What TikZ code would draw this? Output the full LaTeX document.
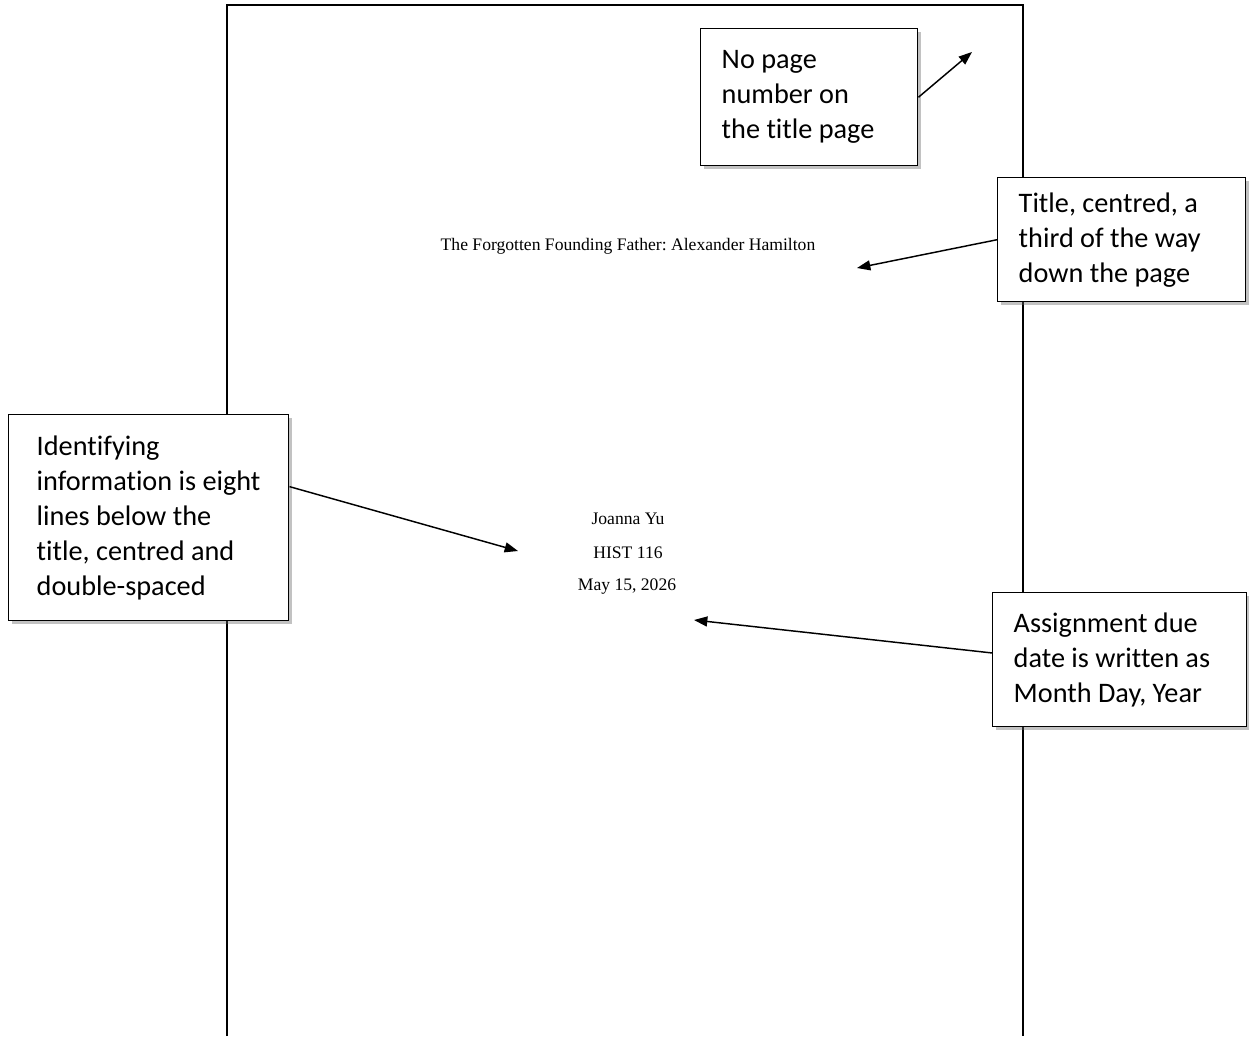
\documentclass[tikz,border=0pt]{standalone}
\usepackage{fontspec}
\setmainfont{Liberation Serif}
\newfontfamily\calloutfont[Ligatures={NoCommon}]{Carlito}
\usetikzlibrary{shadows,calc,arrows.meta}
\frenchspacing

\tikzset{every picture/.style={line width=0.75pt}}
\tikzset{
  callout/.style={draw=black,line width=1.1pt,fill=white,anchor=north west,inner xsep=15.75pt,inner ysep=0pt,
    align=flush left,font=\calloutfont\fontsize{21.2}{26.25}\selectfont,
    drop shadow={shadow xshift=2.5pt,shadow yshift=-2.5pt,opacity=0.4,fill=black!60}},
  pointer/.style={line width=1.1pt,-{Triangle[length=10pt,width=7.5pt]}},
  pagetext/.style={inner sep=0.75pt,font=\fontsize{13.2}{15}\selectfont}
}

\begin{document}
\begin{tikzpicture}[x=0.75pt,y=0.75pt,yscale=-1,xscale=1]
	\useasboundingbox (0,0) rectangle (1249,1036); %picture is 1249 x 1036
	
	%Shape: Page outline (runs off the bottom)
	\draw [line width=1.5pt]  (227,1036) -- (227,5) -- (1023,5) -- (1023,1036) ;
	
	% Text Node
	\draw (628,246) node [pagetext] (title) {The Forgotten Founding Father: Alexander Hamilton};
	% Text Node
	\draw (628,519) node [pagetext] (name) {Joanna Yu};
	% Text Node
	\draw (628,553) node [pagetext] (course) {HIST 116};
	% Text Node
	\draw (627,587) node [pagetext] (date) {May 15, 2026};
	
	%Callout boxes
	\draw (700,28) node [callout,text width=131.25pt,minimum height=102.75pt] (nopage) {No page\\number on\\the title page};
	\draw (997,177) node [callout,text width=154.5pt,minimum height=93pt] (titlenote) {Title, centred, a\\third of the way\\down the page};
	\draw (8,414) node [callout,inner xsep=21pt,text width=168pt,minimum height=154.5pt] (infonote) {Identifying\\information is eight\\lines below the\\title, centred and\\double-spaced};
	\draw (992,592) node [callout,text width=159pt,minimum height=100.5pt] (datenote) {Assignment due\\date is written as\\Month Day, Year};
	
	%Arrow tips
	\coordinate (tipPage) at (972,52);
	\coordinate (tipTitle) at (857,268);
	\coordinate (tipInfo) at (518,551);
	\coordinate (tipDate) at (694,620);
	
	%Straight Lines
	\draw [pointer]  (nopage.east) -- (tipPage) ;
	\draw [pointer]  (titlenote.west) -- (tipTitle) ;
	\draw [pointer]  ($(infonote.north east)!0.35!(infonote.south east)$) -- (tipInfo) ;
	\draw [pointer]  ($(datenote.north west)!0.45!(datenote.south west)$) -- (tipDate) ;
	
\end{tikzpicture}
\end{document}
